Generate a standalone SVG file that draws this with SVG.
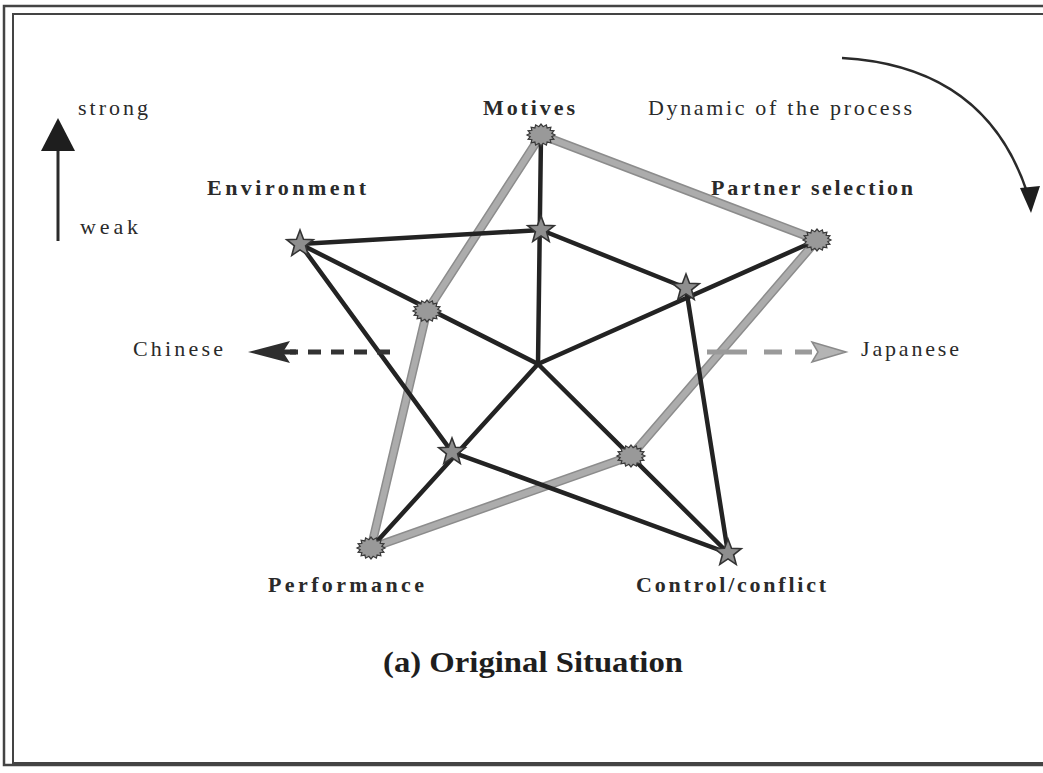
<svg xmlns="http://www.w3.org/2000/svg" width="1043" height="773" viewBox="0 0 1043 773">
  <defs>
    <style>
      .lbl { font-family: "Liberation Serif", "Times New Roman", serif; font-size: 22px; fill: #2a2a2a; }
      .bold { font-weight: bold; }
      .title { font-family: "Liberation Serif", "Times New Roman", serif; font-size: 30px; font-weight: bold; fill: #1e1e1e; }
      .axis { stroke: #232323; stroke-width: 4.5; stroke-linecap: round; fill: none; }
      .grayEdge { stroke: #8c8c8c; stroke-width: 9; stroke-linecap: round; fill: none; }
      .grayCore { stroke: #acacac; stroke-width: 6; stroke-linecap: round; fill: none; }
      .star { fill: #8e8e8e; stroke: #333; stroke-width: 1.6; stroke-linejoin: miter; }
      .seal { fill: #999; stroke: #3a3a3a; stroke-width: 1.2; }
      .frame { fill: none; stroke: #444; }
    </style>
    <path id="starShape" d="M0,-14 L3.5,-4.8 L13.3,-4.3 L5.6,1.8 L8.2,11.3 L0,5.9 L-8.2,11.3 L-5.6,1.8 L-13.3,-4.3 L-3.5,-4.8 Z"/>
    <path id="sealShape" d="M14,0 L10.79,1.66 L12.93,4.21 L9.14,4.73 L9.9,7.78 L6.12,7.06 L5.36,10.16 L2.15,8.34 L0,11 L-2.15,8.34 L-5.36,10.16 L-6.12,7.06 L-9.9,7.78 L-9.14,4.73 L-12.93,4.21 L-10.79,1.66 L-14,0 L-10.79,-1.66 L-12.93,-4.21 L-9.14,-4.73 L-9.9,-7.78 L-6.12,-7.06 L-5.36,-10.16 L-2.15,-8.34 L0,-11 L2.15,-8.34 L5.36,-10.16 L6.12,-7.06 L9.9,-7.78 L9.14,-4.73 L12.93,-4.21 L10.79,-1.66 Z"/>
  </defs>

  <rect width="1043" height="773" fill="#ffffff"/>

  <!-- double frame; right side runs past the canvas edge -->
  <g id="frame">
    <rect class="frame" x="4" y="6" width="1060" height="759" stroke-width="2.5"/>
    <rect class="frame" x="13" y="14" width="1050" height="749" stroke-width="2"/>
  </g>

  <!-- strength scale -->
  <g id="scale">
    <line x1="58" y1="241" x2="58" y2="146" stroke="#2a2a2a" stroke-width="3"/>
    <path d="M58,118 L75,151 L41,151 Z" fill="#1e1e1e"/>
    <text class="lbl" x="78" y="115" textLength="70" lengthAdjust="spacing">strong</text>
    <text class="lbl" x="80" y="234" textLength="58" lengthAdjust="spacing">weak</text>
  </g>

  <!-- process direction -->
  <g id="dynamic">
    <path d="M842,58 Q985,66 1027,192" fill="none" stroke="#2a2a2a" stroke-width="2.5"/>
    <path d="M1031,213 L1020,188 L1040,186 Z" fill="#1e1e1e"/>
    <text class="lbl" x="648" y="115" textLength="264" lengthAdjust="spacing">Dynamic of the process</text>
  </g>

  <g id="connectors">
    <!-- Japanese profile -->
    <g id="japanese-profile">
      <polygon class="grayEdge" points="541,135 817,240 631,456 371,548 427,311"/>
      <polygon class="grayCore" points="541,135 817,240 631,456 371,548 427,311"/>
    </g>
    <!-- spokes -->
    <g id="spokes">
      <line class="axis" x1="538" y1="364" x2="541" y2="135"/>
      <line class="axis" x1="538" y1="364" x2="817" y2="240"/>
      <line class="axis" x1="538" y1="364" x2="728" y2="553"/>
      <line class="axis" x1="538" y1="364" x2="371" y2="548"/>
      <line class="axis" x1="538" y1="364" x2="300" y2="244"/>
    </g>
    <!-- Chinese profile -->
    <polygon id="chinese-profile" class="axis" points="300,244 541,230 686,288 728,553 452,452"/>

    <!-- orientation arrows -->
    <g id="chinese-arrow">
      <line x1="390" y1="352" x2="290" y2="352" stroke="#333" stroke-width="5" stroke-dasharray="13,10"/>
      <path d="M248,352 L290,341 L283,352 L290,363 Z" fill="#2e2e2e"/>
      <line x1="283" y1="352" x2="296" y2="352" stroke="#2e2e2e" stroke-width="5"/>
    </g>
    <g id="japanese-arrow">
      <line x1="707" y1="352" x2="812" y2="352" stroke="#9a9a9a" stroke-width="5" stroke-dasharray="40,17,18,13"/>
      <path d="M846,352 L812,342 L818,352 L812,362 Z" fill="#b4b4b4" stroke="#8a8a8a" stroke-width="1.5"/>
    </g>
  </g>

  <!-- Japanese markers -->
  <g id="node-motives-jp"><use href="#sealShape" class="seal" transform="translate(541,135)"/></g>
  <g id="node-partner-jp"><use href="#sealShape" class="seal" transform="translate(817,240)"/></g>
  <g id="node-control-jp"><use href="#sealShape" class="seal" transform="translate(631,456)"/></g>
  <g id="node-performance-jp"><use href="#sealShape" class="seal" transform="translate(371,548)"/></g>
  <g id="node-environment-jp"><use href="#sealShape" class="seal" transform="translate(427,311)"/></g>

  <!-- Chinese markers -->
  <g id="node-environment-cn"><use href="#starShape" class="star" transform="translate(300,244)"/></g>
  <g id="node-motives-cn"><use href="#starShape" class="star" transform="translate(541,230)"/></g>
  <g id="node-partner-cn"><use href="#starShape" class="star" transform="translate(686,288)"/></g>
  <g id="node-control-cn"><use href="#starShape" class="star" transform="translate(728,553)"/></g>
  <g id="node-performance-cn"><use href="#starShape" class="star" transform="translate(452,452)"/></g>

  <!-- dimension labels -->
  <g id="label-motives"><text class="lbl bold" x="483" y="115" textLength="92" lengthAdjust="spacing">Motives</text></g>
  <g id="label-partner"><text class="lbl bold" x="711" y="195" textLength="202" lengthAdjust="spacing">Partner selection</text></g>
  <g id="label-environment"><text class="lbl bold" x="207" y="195" textLength="159" lengthAdjust="spacing">Environment</text></g>
  <g id="label-performance"><text class="lbl bold" x="268" y="592" textLength="156" lengthAdjust="spacing">Performance</text></g>
  <g id="label-control"><text class="lbl bold" x="636" y="592" textLength="190" lengthAdjust="spacing">Control/conflict</text></g>
  <g id="label-chinese"><text class="lbl" x="133" y="356" textLength="90" lengthAdjust="spacing">Chinese</text></g>
  <g id="label-japanese"><text class="lbl" x="861" y="356" textLength="98" lengthAdjust="spacing">Japanese</text></g>

  <g id="caption"><text class="title" x="383" y="672" textLength="300" lengthAdjust="spacingAndGlyphs">(a) Original Situation</text></g>
</svg>
